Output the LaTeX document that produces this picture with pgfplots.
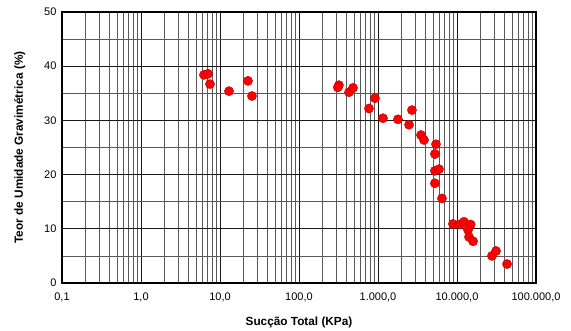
\documentclass[border=0pt]{standalone}
\usepackage{pgfplots}
\pgfplotsset{compat=1.18}
\usepackage{fontspec}
\setmainfont{Liberation Sans}

% Total suction (kPa) vs. gravimetric water content (%)
\pgfplotstableread{
s       w
6.27    38.4
7.05    38.6
7.47    36.7
13.0    35.4
22.6    37.3
25.4    34.5
320     36.5
310     36.1
430     35.2
483     36.0
769     32.2
916     34.1
1156    30.4
1790    30.2
2470    29.2
2690    31.9
3500    27.3
3820    26.4
5420    25.6
5250    23.8
5250    20.7
5920    21.0
5250    18.4
6460    15.6
8890    10.9
10900   10.8
12270   11.3
14900   10.8
13780   9.8
14190   8.5
15960   7.7
27700   5.0
31200   5.9
43000   3.5
}\dados

\begin{document}
\begin{tikzpicture}
\useasboundingbox (-62bp,-48bp) rectangle (509bp,283bp);
\begin{axis}[
  anchor=south west, at={(0,0)},
  scale only axis,
  width=474bp, height=271bp,
  xmode=log, log basis x=10,
  xmin=0.1, xmax=100000,
  ymin=0, ymax=50,
  xtick={0.1,1,10,100,1000,10000,100000},
  xticklabels={{0,1},{1,0},{10,0},{100,0},{1.000,0},{10.000,0},{100.000,0}},
  minor xtick={0.2,0.3,0.4,0.5,0.6,0.7,0.8,0.9,
               2,3,4,5,6,7,8,9,
               20,30,40,50,60,70,80,90,
               200,300,400,500,600,700,800,900,
               2000,3000,4000,5000,6000,7000,8000,9000,
               20000,30000,40000,50000,60000,70000,80000,90000},
  ytick={0,10,20,30,40,50},
  yticklabels={0,10,20,30,40,50},
  minor ytick={5,15,25,35,45},
  grid=both,
  major grid style={black!90, line width=0.9bp},
  minor grid style={black!65, line width=0.7bp},
  major tick length=0pt, minor tick length=0pt,
  axis line style={black, line width=1.6bp},
  tick label style={font=\fontsize{11bp}{13bp}\selectfont, black},
  xticklabel style={yshift=-6bp},
  yticklabel style={xshift=-2bp},
  xlabel={\textbf{Sucção Total (KPa)}},
  ylabel={\textbf{Teor de Umidade Gravimétrica (\%)}},
  label style={font=\fontsize{11.8bp}{13bp}\selectfont},
  xlabel style={at={(axis description cs:0.5,-0.144)}, anchor=center},
  ylabel style={at={(axis description cs:-0.089,0.5)}, anchor=center},
  clip=false,
]
\addplot[only marks, mark=*, mark size=4.6bp,
  mark options={fill=red, draw=red!70!black, line width=0.4bp}]
  table[x=s, y=w] {\dados};
\end{axis}
\end{tikzpicture}
\end{document}
